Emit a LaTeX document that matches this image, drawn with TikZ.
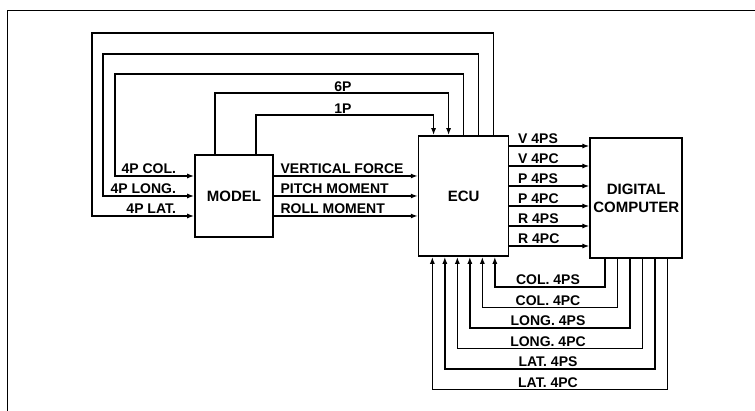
\documentclass[tikz,border=0pt]{standalone}
\usepackage{fontspec}
\setmainfont{Liberation Sans}
\usetikzlibrary{positioning,arrows.meta}

\begin{document}
\begin{tikzpicture}[
  x=1pt, y=-1pt,
  blk/.style={draw, line width=1.6pt, inner sep=0pt, align=center,
    font=\bfseries\fontsize{15}{18}\selectfont},
  sig/.style={line width=1.6pt},
  arr/.style={-{Latex[length=7pt,width=5pt]}},
  lab/.style={font=\bfseries\fontsize{14}{14}\selectfont, inner sep=2pt}
  ]
  \useasboundingbox (0,0) rectangle (755,411);

  % frame
  \draw[line width=0.8pt] (7,411) -- (7,10) -- (755,10);

  % blocks
  \node (model) [blk, minimum width=78pt, minimum height=82pt] at (234,196) {MODEL};
  \node (ecu) [blk, minimum width=90pt, minimum height=120pt, right=144pt of model] {ECU};
  \node (dc) [blk, minimum width=92pt, minimum height=120pt, right=80pt of ecu,
    yshift=-2pt] {DIGITAL\\COMPUTER};

  % 1P and 6P from model to ecu
  \draw[sig,arr] ([xshift=-19pt]model.north) -- ++(0,-61) -| ([xshift=-15pt]ecu.north);
  \draw[sig,arr] ([xshift=22pt]model.north) -- ++(0,-39) -| ([xshift=-30pt]ecu.north);
  \node (sixp) [lab, above] at (343,94) {6P};
  \node (onep) [lab, above] at (343,116) {1P};

  % 4P loops back to the model
  \foreach \lab/\dx/\top/\lft/\dy in {4P COL./0/74/115/20, 4P LONG./15/54/103/0,
      4P LAT./30/33/92/-20} {
    \draw[sig,arr] ([xshift=\dx pt]ecu.north) |- (\lft,\top) |- ([yshift=\dy pt]model.west);
    \node[lab, above left] at ([xshift=-16pt,yshift=\dy pt]model.west) {\lab};
  }

  % model to ecu
  \foreach \lab/\dy in {VERTICAL FORCE/20, PITCH MOMENT/0, ROLL MOMENT/-20}
    \draw[sig,arr] ([yshift=\dy pt]model.east) --
      node[lab, above right, pos=0, xshift=4pt] {\lab} ([yshift=\dy pt]ecu.west);

  % ecu to computer
  \foreach \lab [count=\i] in {V 4PS, V 4PC, P 4PS, P 4PC, R 4PS, R 4PC} {
    \pgfmathsetmacro\dy{70-20*\i}
    \draw[sig,arr] ([yshift=\dy pt]ecu.east) coordinate (s) --
      node[lab, above right, pos=0, xshift=6pt] {\lab} (s -| dc.west);
  }

  % computer back to ecu
  \foreach \lab [count=\i] in {COL. 4PS, COL. 4PC, LONG. 4PS, LONG. 4PC,
      LAT. 4PS, LAT. 4PC} {
    \pgfmathsetmacro\offe{43.75-12.5*\i}
    \pgfmathsetmacro\offd{12.5*\i-43.75}
    \pgfmathsetmacro\lvl{266.5+20.5*\i}
    \draw[sig,arr] ([xshift=\offd pt]dc.south) |- ([xshift=\offe pt]ecu.south |- 0,\lvl)
      -- ([xshift=\offe pt]ecu.south);
    \node[lab, above] at (548,\lvl) {\lab};
  }
\end{tikzpicture}
\end{document}
